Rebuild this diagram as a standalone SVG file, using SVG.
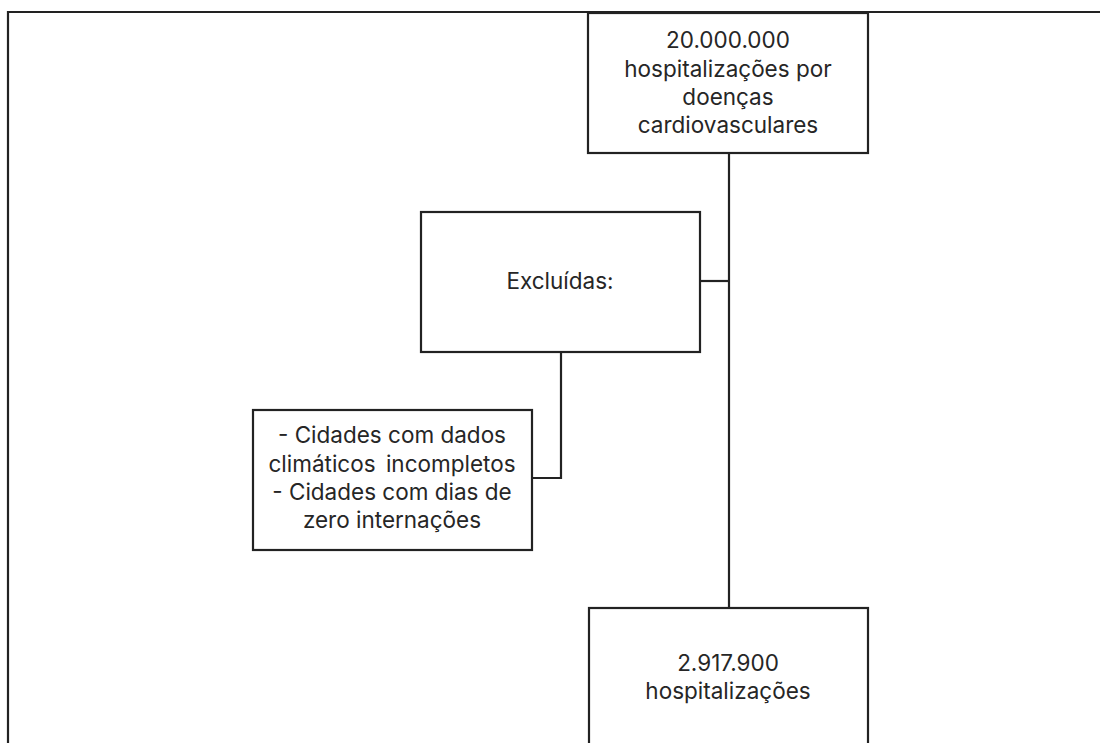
<svg xmlns="http://www.w3.org/2000/svg" width="1100" height="743" viewBox="0 0 1100 743">
<style>
.box{fill:#fff;stroke:#222;stroke-width:2.2}
.ln{fill:none;stroke:#222;stroke-width:2.2}
text{font-family:Inter,"Liberation Sans",sans-serif;font-size:22.5px;fill:#262626;text-anchor:middle}
</style>
<rect width="1100" height="743" fill="#fff"/>
<g id="frame">
<path class="ln" d="M8,743 V12 H1100"/>
</g>
<g id="connectors">
<path class="ln" d="M729,153 V608"/>
<path class="ln" d="M700,281 H729"/>
<path class="ln" d="M561,352 V478 H532"/>
</g>
<g id="node-total">
<rect class="box" x="588" y="13" width="280" height="140"/>
<text x="728" y="48">20.000.000</text>
<text x="728" y="77">hospitalizações por</text>
<text x="728" y="105">doenças</text>
<text x="728" y="133">cardiovasculares</text>
</g>
<g id="node-excluidas">
<rect class="box" x="421" y="212" width="279" height="140"/>
<text x="560" y="289">Excluídas:</text>
</g>
<g id="node-criterios">
<rect class="box" x="253" y="410" width="279" height="140"/>
<text x="392" y="443">- Cidades com dados</text>
<text x="392" y="472" word-spacing="4">climáticos incompletos</text>
<text x="392" y="500">- Cidades com dias de</text>
<text x="392" y="528">zero internações</text>
</g>
<g id="node-final">
<rect class="box" x="589" y="608" width="279" height="150"/>
<text x="728" y="671">2.917.900</text>
<text x="728" y="699">hospitalizações</text>
</g>
</svg>
